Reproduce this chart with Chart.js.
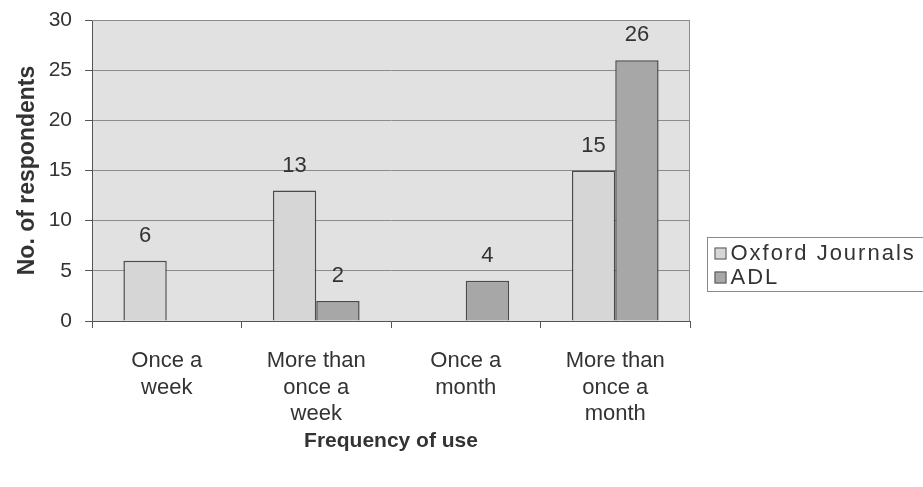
<!DOCTYPE html>
<html>
<head>
<meta charset="utf-8">
<script src="https://cdn.jsdelivr.net/npm/chart.js@4.4.0/dist/chart.umd.min.js"></script>
<style>
html, body { margin: 0; padding: 0; background: #fff; }
#wrap { width: 923px; height: 487px; }
</style>
</head>
<body>
<div id="wrap"><canvas id="chart" width="923" height="487"></canvas></div>
<script>
// donnees
var categories = [['Once a', 'week'], ['More than', 'once a', 'week'], ['Once a', 'month'], ['More than', 'once a', 'month']];
var seriesNames = ['Oxford Journals', 'ADL'];
var oxfordJournals = [6, 13, 0, 15];
var adl = [0, 2, 4, 26];
var yTicks = [0, 5, 10, 15, 20, 25, 30];

var colors = ['#d6d6d6', '#a7a7a7'];
var fontFam = "'Liberation Sans', Arial, sans-serif";

Chart.defaults.font.family = fontFam;
Chart.defaults.color = '#333';

// fond gris de la zone de tracé + cadre
var plotBg = {
    id: 'plotBg',
    beforeDraw: function(chart) {
        var a = chart.chartArea, c = chart.ctx;
        c.save();
        c.fillStyle = '#e1e1e1';
        c.fillRect(a.left, a.top, a.right - a.left, a.bottom - a.top);
        c.restore();
    },
    afterDatasetsDraw: function(chart) {
        var a = chart.chartArea, c = chart.ctx;
        c.save();
        c.strokeStyle = '#8a8a8a';
        c.lineWidth = 1;
        c.beginPath();
        c.moveTo(a.left, a.top + 0.5);
        c.lineTo(a.right - 0.5, a.top + 0.5);
        c.lineTo(a.right - 0.5, a.bottom);
        c.stroke();
        c.restore();
    }
};

// valeurs au dessus des barres
var barValues = {
    id: 'barValues',
    afterDatasetsDraw: function(chart) {
        var c = chart.ctx;
        c.save();
        c.font = "22px " + fontFam;
        c.fillStyle = '#333';
        c.textAlign = 'center';
        c.textBaseline = 'alphabetic';
        chart.data.datasets.forEach(function(ds, i) {
            chart.getDatasetMeta(i).data.forEach(function(bar, j) {
                if (ds.data[j] > 0) {
                    c.fillText(ds.data[j], bar.x, bar.y - 19);
                }
            });
        });
        c.restore();
    }
};

// legende encadrée à droite
var boxLegend = {
    id: 'boxLegend',
    afterDraw: function(chart) {
        var c = chart.ctx;
        var x = 707.5, y = 237.5;
        c.save();
        c.strokeStyle = '#8a8a8a';
        c.lineWidth = 1;
        c.strokeRect(x, y, 240, 54);
        c.font = "22px " + fontFam;
        c.letterSpacing = '2px';
        c.textBaseline = 'middle';
        chart.data.datasets.forEach(function(ds, i) {
            var ry = y + 15 + i * 24;
            c.fillStyle = ds.backgroundColor;
            c.fillRect(x + 7, ry - 5, 12, 12);
            c.strokeStyle = '#555';
            c.strokeRect(x + 7.5, ry - 4.5, 11, 11);
            c.fillStyle = '#333';
            c.fillText(ds.label, x + 23, ry + 1);
        });
        c.restore();
    }
};

var ctx = document.getElementById('chart').getContext('2d');
var myChart = new Chart(ctx, {
    type: 'bar',
    data: {
        labels: categories,
        datasets: [{
            label: seriesNames[0],
            data: oxfordJournals,
            backgroundColor: colors[0]
        }, {
            label: seriesNames[1],
            data: adl,
            backgroundColor: colors[1]
        }]
    },
    options: {
        responsive: false,
        animation: false,
        layout: { padding: { top: 20, right: 233, left: 0, bottom: 0 } },
        datasets: {
            bar: {
                categoryPercentage: 0.58,
                barPercentage: 1.0,
                borderColor: '#4a4a4a',
                borderWidth: function(c) { return c.raw === 0 ? 0 : 1.5; },
                borderSkipped: 'bottom'
            }
        },
        plugins: {
            legend: { display: false },
            tooltip: { enabled: false }
        },
        scales: {
            x: {
                grid: { offset: true, drawOnChartArea: false, tickLength: 7, color: '#555' },
                border: { color: '#555' },
                ticks: { font: { size: 22, lineHeight: 1.2 }, color: '#333', padding: 20, maxRotation: 0 },
                title: {
                    display: true,
                    text: 'Frequency of use',
                    font: { size: 21, weight: 'bold' },
                    color: '#333',
                    padding: { top: 0, bottom: 33 }
                },
                afterFit: function(scale) { scale.height = 166; }
            },
            y: {
                min: 0,
                max: 30,
                afterBuildTicks: function(scale) {
                    scale.ticks = yTicks.map(function(v) { return { value: v }; });
                },
                grid: { color: '#8c8c8c', tickLength: 7, tickColor: '#555' },
                border: { color: '#555' },
                ticks: { font: { size: 21 }, color: '#333', padding: 13 },
                title: {
                    display: true,
                    text: 'No. of respondents',
                    font: { size: 23, weight: 'bold' },
                    color: '#333',
                    padding: { top: 14, bottom: 0 }
                },
                afterFit: function(scale) {
                    scale.width = 92;
                    scale.paddingTop = 0;
                    scale.paddingBottom = 0;
                }
            }
        }
    },
    plugins: [plotBg, barValues, boxLegend]
});
</script>
</body>
</html>
